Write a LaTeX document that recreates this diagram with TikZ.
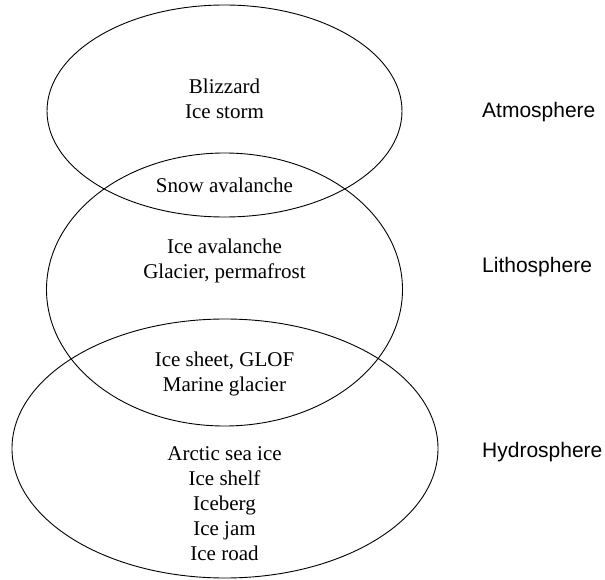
\documentclass[tikz,border=0pt]{standalone}
\usepackage{fontspec}
\setmainfont{Liberation Serif}
\newfontfamily\labelfont{Liberation Sans}
\usetikzlibrary{shapes.geometric}
\tikzset{
  sphere/.style={draw, ellipse, line width=0.9pt, inner sep=0pt},
  items/.style={align=center, inner sep=0pt, font=\fontsize{21}{25}\selectfont},
  sphlabel/.style={anchor=west, inner sep=0pt, font=\labelfont\fontsize{21}{25}\selectfont}
}
\begin{document}
\begin{tikzpicture}[x=1pt,y=-1pt]
\useasboundingbox (0,0) rectangle (605,580);
\node[sphere, minimum width=355pt, minimum height=212pt] (atm) at (224.5,111) {};
\node[sphere, minimum width=356pt, minimum height=273pt] (lith) at (224.5,289.5) {};
\node[sphere, minimum width=426pt, minimum height=259pt] (hyd) at (225,448.5) {};
\node[items] (t1) at (224.5,98.5) {Blizzard\\Ice storm};
\node[items] (t2) at (224.5,185) {Snow avalanche};
\node[items] (t3) at (224.5,260.5) {Ice avalanche\\Glacier, permafrost};
\node[items] (t4) at (224.5,373.5) {Ice sheet, GLOF\\Marine glacier};
\node[items] (t5) at (224.5,504) {Arctic sea ice\\Ice shelf\\Iceberg\\Ice jam\\Ice road};
\node[sphlabel] (l1) at (482,112) {Atmosphere};
\node[sphlabel] (l2) at (482,267) {Lithosphere};
\node[sphlabel] (l3) at (482,452) {Hydrosphere};
\end{tikzpicture}
\end{document}
